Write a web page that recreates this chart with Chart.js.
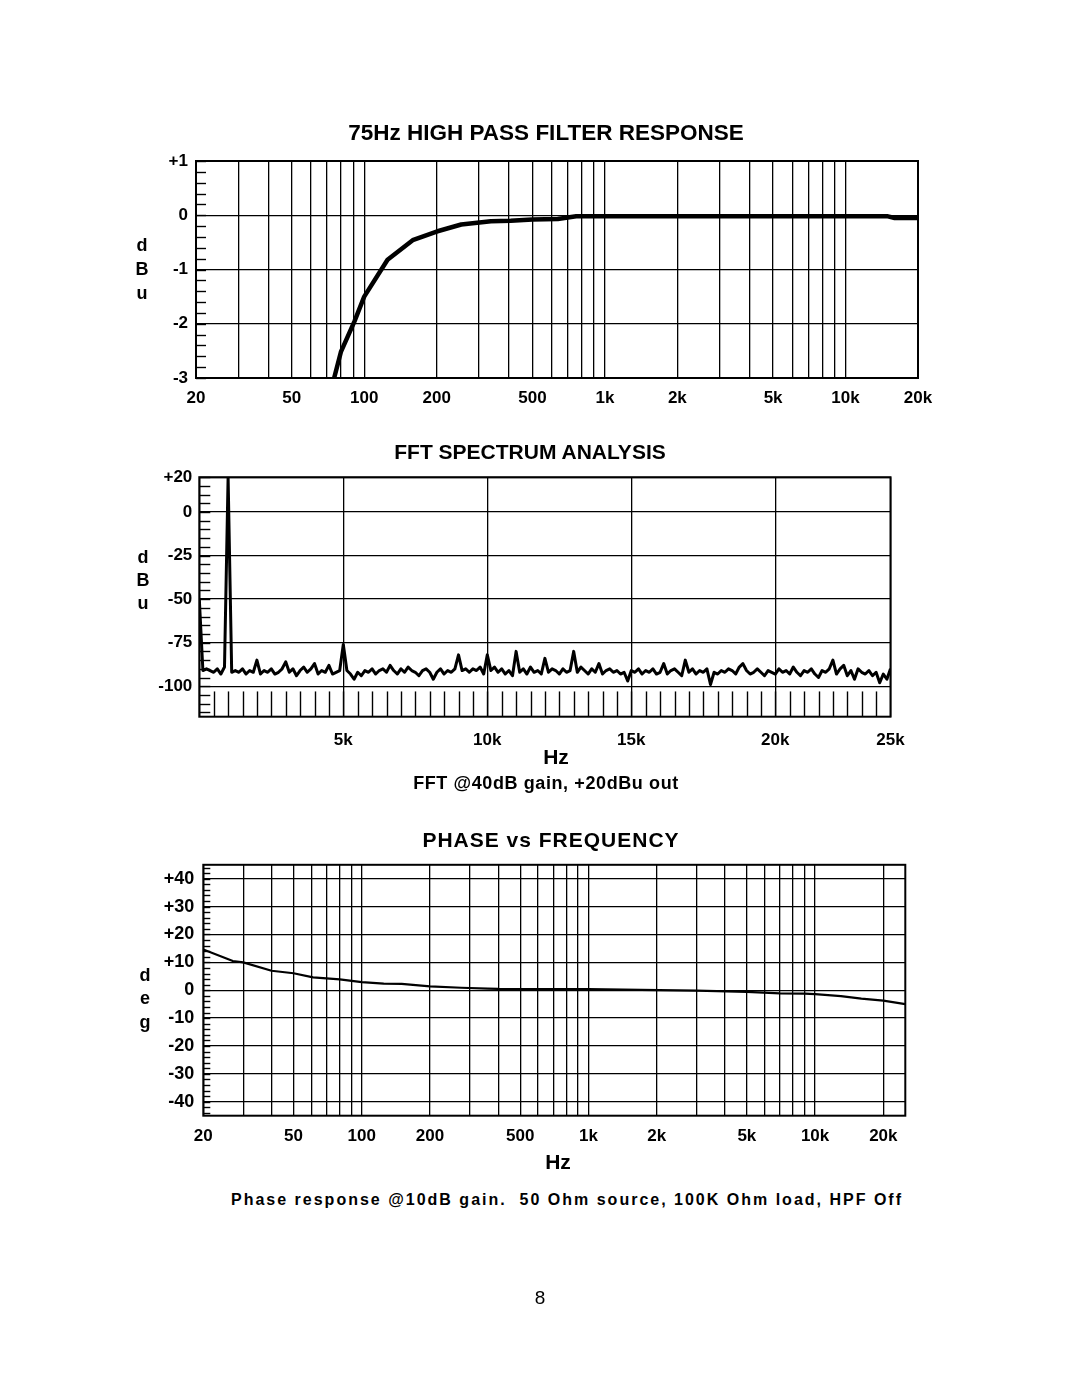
<!DOCTYPE html>
<html>
<head>
<meta charset="utf-8">
<script src="https://cdn.jsdelivr.net/npm/chart.js@4.4.0/dist/chart.umd.min.js"></script>
<style>
  body { margin: 0; background: #fff; }
  #pagina { position: relative; width: 1080px; height: 1397px; font-family: "Liberation Sans", Arial, sans-serif; color: #000; overflow: hidden; }
  canvas { position: absolute; left: 0; }
  .txt { position: absolute; font-weight: bold; white-space: nowrap; transform: translate(-50%, -50%); }
</style>
</head>
<body>
<div id="pagina">
  <canvas id="grafico-hpf" width="1080" height="280" style="top:140px"></canvas>
  <canvas id="grafico-fft" width="1080" height="290" style="top:460px"></canvas>
  <canvas id="grafico-fase" width="1080" height="310" style="top:845px"></canvas>

  <div class="txt" style="left:546px; top:133px; font-size:22.5px">75Hz HIGH PASS FILTER RESPONSE</div>
  <div class="txt" style="left:142px; top:245px; font-size:18px">d</div>
  <div class="txt" style="left:142px; top:269px; font-size:18px">B</div>
  <div class="txt" style="left:142px; top:293px; font-size:18px">u</div>

  <div class="txt" style="left:530px; top:452px; font-size:21px">FFT SPECTRUM ANALYSIS</div>
  <div class="txt" style="left:143px; top:557px; font-size:18px">d</div>
  <div class="txt" style="left:143px; top:580px; font-size:18px">B</div>
  <div class="txt" style="left:143px; top:603px; font-size:18px">u</div>
  <div class="txt" style="left:556px; top:757px; font-size:21px">Hz</div>
  <div class="txt" style="left:546px; top:783px; font-size:18px; letter-spacing:0.6px">FFT @40dB gain, +20dBu out</div>

  <div class="txt" style="left:551px; top:840px; font-size:21px; letter-spacing:1px">PHASE vs FREQUENCY</div>
  <div class="txt" style="left:145px; top:975px; font-size:18px">d</div>
  <div class="txt" style="left:145px; top:998px; font-size:18px">e</div>
  <div class="txt" style="left:145px; top:1022px; font-size:18px">g</div>
  <div class="txt" style="left:558px; top:1162px; font-size:21px">Hz</div>
  <div class="txt" style="left:567px; top:1200px; font-size:16px; letter-spacing:2px">Phase response @10dB gain.&nbsp; 50 Ohm source, 100K Ohm load, HPF Off</div>

  <div class="txt" style="left:540px; top:1298px; font-size:19px; font-weight:normal">8</div>
</div>

<script>
// ---- Dados do filtro passa-altas (Hz / dBu)
const hpfFreq = [75, 80, 91, 100, 125, 159, 200, 253, 336, 406, 500, 637, 760, 1000, 2000, 5000, 10000, 15000, 16000, 20000];
const hpfDb = [-3.0, -2.52, -1.96, -1.5, -0.82, -0.46, -0.30, -0.17, -0.11, -0.10, -0.08, -0.07, -0.02, -0.02, -0.02, -0.02, -0.02, -0.02, -0.05, -0.05];
const hpfYTicks = [-3, -2, -1, 0, 1];
const hpfYLabels = ['-3', '-2', '-1', '0', '+1'];
const freqLabelValues = [20, 50, 100, 200, 500, 1000, 2000, 5000, 10000, 20000];
const freqLabelTexts = ['20', '50', '100', '200', '500', '1k', '2k', '5k', '10k', '20k'];

// ---- Dados do FFT: um valor a cada 125 Hz, de 0 a 24 kHz
const fftBinHz = 125;
const fftDb = [
  -50, -91, -90, -91, -92, -90, -93, -89, 20, -92,
  -91, -92, -90, -93, -91, -92, -85, -93, -91, -92,
  -90, -93, -92, -90, -86, -92, -90, -94, -91, -89,
  -92, -90, -87, -93, -91, -92, -88, -93, -92, -91,
  -76, -91, -93, -96, -92, -94, -91, -92, -90, -93,
  -91, -90, -92, -88, -91, -93, -90, -92, -89, -91,
  -92, -94, -91, -90, -92, -96, -92, -90, -93, -91,
  -92, -90, -82, -91, -90, -92, -90, -91, -89, -93,
  -82, -91, -89, -92, -90, -93, -91, -94, -80, -92,
  -90, -93, -89, -92, -91, -93, -84, -92, -90, -91,
  -93, -90, -92, -91, -80, -92, -89, -91, -93, -90,
  -92, -87, -93, -91, -90, -92, -91, -93, -92, -97,
  -91, -92, -90, -93, -91, -92, -90, -93, -92, -87,
  -93, -91, -90, -92, -94, -85, -92, -90, -93, -91,
  -92, -90, -99, -92, -93, -91, -92, -90, -91, -93,
  -89, -87, -91, -93, -92, -90, -92, -94, -91, -92,
  -93, -90, -92, -91, -93, -89, -92, -94, -91, -92,
  -90, -93, -95, -91, -92, -90, -85, -93, -90, -88,
  -94, -91, -96, -90, -92, -93, -91, -94, -92, -98,
  -93, -96, -90
];
const fftYTicks = [-100, -75, -50, -25, 0, 20];
const fftYLabels = ['-100', '-75', '-50', '-25', '0', '+20'];
const fftXTicks = [0, 5000, 10000, 15000, 20000, 24000];
const fftXLabels = ['', '5k', '10k', '15k', '20k', '25k'];

// ---- Dados de fase (Hz / graus)
const faseFreq = [20, 27, 30, 40, 50, 61, 80, 100, 125, 150, 200, 275, 360, 400, 1000, 1700, 3000, 5000, 7000, 9000, 10000, 13000, 16000, 20000, 25000];
const faseGraus = [14.6, 10.5, 10.0, 7.0, 6.1, 4.6, 3.9, 2.9, 2.4, 2.3, 1.4, 0.9, 0.6, 0.5, 0.4, 0.1, -0.1, -0.6, -1.1, -1.2, -1.4, -2.1, -3.0, -3.7, -5.0];
const faseYTicks = [-40, -30, -20, -10, 0, 10, 20, 30, 40];
const faseYLabels = ['-40', '-30', '-20', '-10', '0', '+10', '+20', '+30', '+40'];

Chart.defaults.font.family = '"Liberation Sans", Arial, sans-serif';
Chart.defaults.color = '#000';

// Linhas de grade logarítmicas 1..9 x década
function gradeLog(min, max) {
  const vals = [];
  for (let d = 10; d <= max; d *= 10) {
    for (let m = 1; m < 10; m++) {
      const v = m * d;
      if (v >= min && v <= max) vals.push(v);
    }
  }
  return vals;
}

// Moldura + tracinhos menores no eixo Y (e no rodapé do FFT)
const pluginMoldura = {
  id: 'moldura',
  afterDraw(chart, args, opts) {
    const { ctx, chartArea: a, scales } = chart;
    ctx.save();
    ctx.strokeStyle = '#000';
    ctx.lineWidth = 1.4;
    if (opts.passoY) {
      const y = scales.y;
      const i0 = Math.ceil(y.min / opts.passoY - 1e-6);
      const i1 = Math.floor(y.max / opts.passoY + 1e-6);
      for (let i = i0; i <= i1; i++) {
        const py = Math.round(y.getPixelForValue(i * opts.passoY)) + 0.5;
        ctx.beginPath();
        ctx.moveTo(a.left, py);
        ctx.lineTo(a.left + opts.tamY, py);
        ctx.stroke();
      }
    }
    if (opts.passoX) {
      const x = scales.x;
      const topo = scales.y.getPixelForValue(opts.xDe);
      for (let v = opts.passoX; v < x.max; v += opts.passoX) {
        const px = Math.round(x.getPixelForValue(v)) + 0.5;
        ctx.beginPath();
        ctx.moveTo(px, topo);
        ctx.lineTo(px, a.bottom);
        ctx.stroke();
      }
    }
    ctx.lineWidth = 2;
    ctx.strokeRect(a.left, a.top, a.right - a.left, a.bottom - a.top);
    ctx.restore();
  }
};

const fonteEixo = { size: 17, weight: 'bold' };
const grade = { color: '#000', lineWidth: 1.3, drawTicks: false };

function eixoY(min, max, valores, textos, largura, padding, fonte) {
  return {
    type: 'linear', min, max,
    grid: grade,
    border: { display: false },
    afterBuildTicks: s => { s.ticks = valores.map(v => ({ value: v })); },
    afterFit: s => { s.width = largura; },
    ticks: { font: fonte || fonteEixo, padding, autoSkip: false, callback: (v, i) => textos[i] }
  };
}

function eixoLog(min, max, altura, padding) {
  return {
    type: 'logarithmic', min, max,
    grid: grade,
    border: { display: false },
    afterBuildTicks: s => { s.ticks = gradeLog(min, max).map(v => ({ value: v })); },
    afterFit: s => { s.height = altura; },
    ticks: {
      font: fonteEixo, padding, autoSkip: false, maxRotation: 0, minRotation: 0,
      callback: v => {
        const k = freqLabelValues.indexOf(v);
        return k >= 0 ? freqLabelTexts[k] : '';
      }
    }
  };
}

function opcoesBase(padding, scales, moldura) {
  return {
    responsive: false,
    animation: false,
    layout: { padding },
    scales,
    plugins: { legend: { display: false }, tooltip: { enabled: false }, moldura }
  };
}

// Gráfico 1: resposta do filtro
new Chart(document.getElementById('grafico-hpf'), {
  type: 'line',
  data: {
    datasets: [{
      data: hpfFreq.map((f, i) => ({ x: f, y: hpfDb[i] })),
      borderColor: '#000', borderWidth: 4.5, pointRadius: 0, tension: 0,
      borderJoinStyle: 'round'
    }]
  },
  options: opcoesBase(
    { top: 21, right: 162, left: 0, bottom: 0 },
    { x: eixoLog(20, 20000, 42, 10), y: eixoY(-3, 1, hpfYTicks, hpfYLabels, 196, 8) },
    { passoY: 0.2, tamY: 10 }
  ),
  plugins: [pluginMoldura]
});

// Gráfico 2: espectro FFT
new Chart(document.getElementById('grafico-fft'), {
  type: 'line',
  data: {
    datasets: [{
      data: fftDb.map((d, i) => ({ x: i * fftBinHz, y: d })),
      borderColor: '#000', borderWidth: 3, pointRadius: 0, tension: 0,
      borderJoinStyle: 'round'
    }]
  },
  options: opcoesBase(
    { top: 12.5, right: 189.5, left: 0, bottom: 0 },
    {
      x: {
        type: 'linear', min: 0, max: 24000,
        grid: grade,
        border: { display: false },
        afterBuildTicks: s => { s.ticks = fftXTicks.map(v => ({ value: v })); },
        afterFit: s => { s.height = 33.3; },
        ticks: { font: fonteEixo, padding: 13, autoSkip: false, maxRotation: 0, callback: (v, i) => fftXLabels[i] }
      },
      y: eixoY(-117.5, 20, fftYTicks, fftYLabels, 199.3, 7)
    },
    { passoY: 5, tamY: 11, passoX: 500, xDe: -103 }
  ),
  plugins: [pluginMoldura]
});

// Gráfico 3: fase x frequência
new Chart(document.getElementById('grafico-fase'), {
  type: 'line',
  data: {
    datasets: [{
      data: faseFreq.map((f, i) => ({ x: f, y: faseGraus[i] })),
      borderColor: '#000', borderWidth: 2.2, pointRadius: 0, tension: 0,
      borderJoinStyle: 'round'
    }]
  },
  options: opcoesBase(
    { top: 11, right: 174.7, left: 0, bottom: 0 },
    { x: eixoLog(20, 25000, 39.3, 10), y: eixoY(-45, 45, faseYTicks, faseYLabels, 203.3, 9, { size: 18, weight: 'bold' }) },
    { passoY: 2, tamY: 7 }
  ),
  plugins: [pluginMoldura]
});
</script>
</body>
</html>
